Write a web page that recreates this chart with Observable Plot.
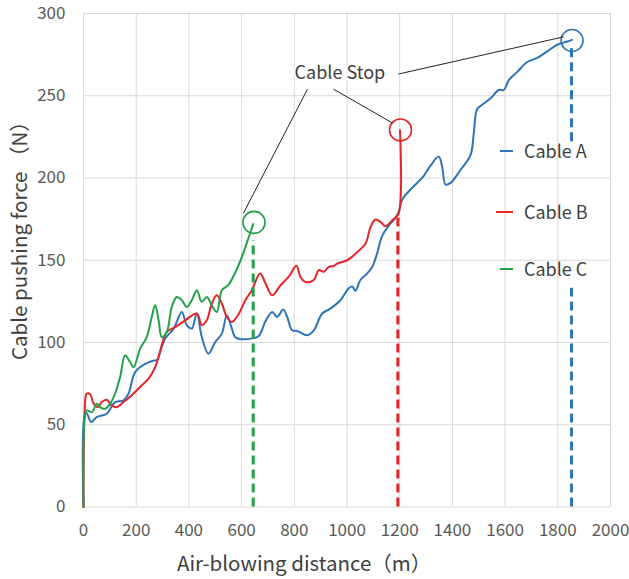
<!DOCTYPE html>
<html><head><meta charset="utf-8">
<script src="https://cdn.jsdelivr.net/npm/d3@7"></script>
<script src="https://cdn.jsdelivr.net/npm/@observablehq/plot@0.6"></script>
<style>
body{margin:0;background:#fff}
#chart{position:relative;width:629px;height:579px}
</style>
</head><body><div id="chart"></div>
<script>
// ---------- data ----------
const xTicks = [0, 200, 400, 600, 800, 1000, 1200, 1400, 1600, 1800, 2000];
const yTicks = [0, 50, 100, 150, 200, 250, 300];
const seriesNames = ["Cable A", "Cable B", "Cable C"];
const seriesColors = ["#2e75b6", "#e42529", "#24a04a"];

const cableA_x = [0, 5, 12, 29, 50, 88, 120, 152, 171, 196, 234, 266, 280, 297, 310, 342, 373, 392, 411, 430, 449, 474, 500, 525, 544, 560, 577, 600, 640, 665, 691, 716, 735, 758, 773, 792, 811, 849, 874, 906, 937, 975, 1007, 1020, 1032, 1051, 1077, 1096, 1114, 1134, 1159, 1180, 1195, 1210, 1241, 1266, 1290, 1317, 1348, 1361, 1374, 1393, 1431, 1469, 1481, 1494, 1513, 1545, 1576, 1595, 1614, 1646, 1684, 1722, 1760, 1798, 1836, 1854];
const cableA_y = [0, 56, 57, 51.6, 54.7, 56.7, 63.8, 64.8, 69, 82, 87, 89, 89.5, 97.3, 102.4, 108.4, 118.6, 110.5, 108.5, 117.6, 103.3, 93.2, 100.3, 105.4, 116.5, 110, 103, 102, 102.5, 104, 113, 118.6, 115.5, 120, 115.5, 107.4, 107, 104.4, 107.4, 117.6, 120.6, 125.7, 133, 134, 131.5, 138, 142, 146, 154, 165, 171, 175, 179, 187, 193, 197, 201, 207.5, 213, 207, 196, 197, 205, 214, 227, 242, 244.5, 248.5, 253.5, 253.5, 259.5, 264.5, 270.5, 273, 277, 281, 283, 284];

const cableB_x = [0, 5, 12, 25, 38, 54, 69, 88, 107, 126, 152, 183, 215, 247, 272, 291, 316, 348, 386, 430, 449, 468, 487, 506, 525, 544, 563, 588, 614, 639, 670, 691, 716, 748, 779, 808, 823, 842, 874, 893, 912, 931, 950, 963, 1001, 1039, 1070, 1089, 1108, 1127, 1146, 1172, 1195, 1201];
const cableB_y = [0, 60, 69, 68.5, 63, 60.7, 63.8, 65.2, 61.8, 60.7, 63.8, 68, 73, 78, 85, 95, 106.4, 109.4, 113.5, 117.6, 110.5, 113.5, 123.7, 128.7, 123.7, 115.5, 112.5, 117, 125.7, 131.8, 142, 135.8, 128.7, 134.8, 140, 146.6, 140, 136.8, 138, 144, 143, 146, 146.5, 148, 150, 155, 160, 170, 174.8, 173.3, 170.7, 174.4, 178, 229];

const cableC_x = [0, 5, 12, 32, 50, 63, 82, 101, 120, 139, 158, 177, 190, 215, 240, 259, 272, 285, 297, 316, 335, 354, 373, 392, 411, 430, 449, 468, 487, 506, 525, 550, 583, 608, 627, 644];
const cableC_y = [0, 55, 58.7, 57.7, 62.8, 60.7, 59.7, 62.8, 69, 79, 92.2, 88, 85, 96.3, 103.3, 115.5, 122.6, 113.5, 103.3, 106.4, 121.6, 127.7, 125.7, 121.6, 125.7, 131.8, 124.7, 127.7, 122.6, 118.6, 131.8, 135, 145, 155, 164, 172];

// cable stop markers
const stopX = [1854, 1203, 647];
const stopY = [283.6, 229.2, 173];
// dashed drop lines (Cable A is broken where the legend sits)
const dropSeries = ["Cable A", "Cable A", "Cable B", "Cable C"];
const dropX = [1852, 1852, 1193, 644];
const dropTop = [280, 133, 176, 162];
const dropBottom = [222, 0, 0, 0];

// annotation
const stopLabel = "Cable Stop";
const stopLabelX = 973;
const stopLabelY = 263.6;
const leaderX1 = [850, 949, 1195];
const leaderY1 = [254, 254, 263.2];
const leaderX2 = [607, 1173, 1822];
const leaderY2 = [178.6, 233.4, 285.8];

const xTitle = "Air-blowing distance（m）";
const yTitle = "Cable pushing force （N）";

// ---------- build tables ----------
const lineData = [
  ...cableA_x.map((x, i) => ({series: "Cable A", x, y: cableA_y[i]})),
  ...cableB_x.map((x, i) => ({series: "Cable B", x, y: cableB_y[i]})),
  ...cableC_x.map((x, i) => ({series: "Cable C", x, y: cableC_y[i]}))
];
const stops = seriesNames.map((s, i) => ({series: s, x: stopX[i], y: stopY[i]}));
const drops = dropX.map((x, i) => ({series: dropSeries[i], x, y1: dropBottom[i], y2: dropTop[i]}));
const leaders = leaderX1.map((x1, i) => ({x1, y1: leaderY1[i], x2: leaderX2[i], y2: leaderY2[i]}));

const FONT = "'Noto Sans CJK JP', 'Noto Sans', sans-serif";

const chart = Plot.plot({
  width: 629,
  height: 579,
  marginLeft: 83,
  marginRight: 19,
  marginTop: 13,
  marginBottom: 72.5,
  style: {fontFamily: FONT, fontSize: "17px", color: "#595959", background: "white"},
  x: {domain: [0, 2000], label: null},
  y: {domain: [0, 300], label: null},
  color: {domain: seriesNames, range: seriesColors},
  marks: [
    Plot.gridX(xTicks, {stroke: "#d9d9d9", strokeOpacity: 1, strokeWidth: 1}),
    Plot.gridY(yTicks, {stroke: "#d9d9d9", strokeOpacity: 1, strokeWidth: 1}),
    Plot.axisX({ticks: xTicks, tickSize: 0, tickPadding: 16.5, tickFormat: d => String(d), fill: "#595959"}),
    Plot.axisY({ticks: yTicks, tickSize: 0, tickPadding: 18, tickFormat: d => String(d), fill: "#595959"}),
    Plot.line(lineData, {x: "x", y: "y", z: "series", stroke: "series", strokeWidth: 2, curve: "catmull-rom"}),
    Plot.ruleX(drops, {x: "x", y1: "y1", y2: "y2", stroke: "series", strokeWidth: 3, strokeDasharray: "9,5"}),
    Plot.dot(stops, {x: "x", y: "y", r: 11, stroke: "series", strokeWidth: 1.6, fill: "none"}),
    Plot.link(leaders, {x1: "x1", y1: "y1", x2: "x2", y2: "y2", stroke: "#222", strokeWidth: 1}),
    Plot.text([stopLabel], {x: stopLabelX, y: stopLabelY, text: d => d, fontSize: 18, fill: "#404040", stroke: "white", strokeWidth: 4, paintOrder: "stroke"})
  ]
});

document.getElementById("chart").appendChild(chart);

// ---------- titles and legend ----------
const svg = d3.select(chart);
svg.append("text")
  .attr("x", 177).attr("y", 571)
  .attr("text-anchor", "start")
  .attr("font-family", FONT).attr("font-size", 20.5).attr("fill", "#404040")
  .text(xTitle);
svg.append("text")
  .attr("transform", "translate(27,360) rotate(-90)")
  .attr("text-anchor", "start")
  .attr("font-family", FONT).attr("font-size", 20.5).attr("fill", "#404040")
  .text(yTitle);

const legendY = [150, 211, 268];
const legendSwatchX1 = [500, 496, 500];
const lg = svg.append("g");
seriesNames.forEach((s, i) => {
  lg.append("line").attr("x1", legendSwatchX1[i]).attr("x2", 513)
    .attr("y1", legendY[i] + 1).attr("y2", legendY[i] + 1)
    .attr("stroke", seriesColors[i]).attr("stroke-width", 2);
  lg.append("text").attr("x", 524).attr("y", legendY[i])
    .attr("text-anchor", "start")
    .attr("dominant-baseline", "central")
    .attr("font-family", FONT).attr("font-size", 18).attr("fill", "#404040")
    .text(s);
});
</script>
</body></html>
